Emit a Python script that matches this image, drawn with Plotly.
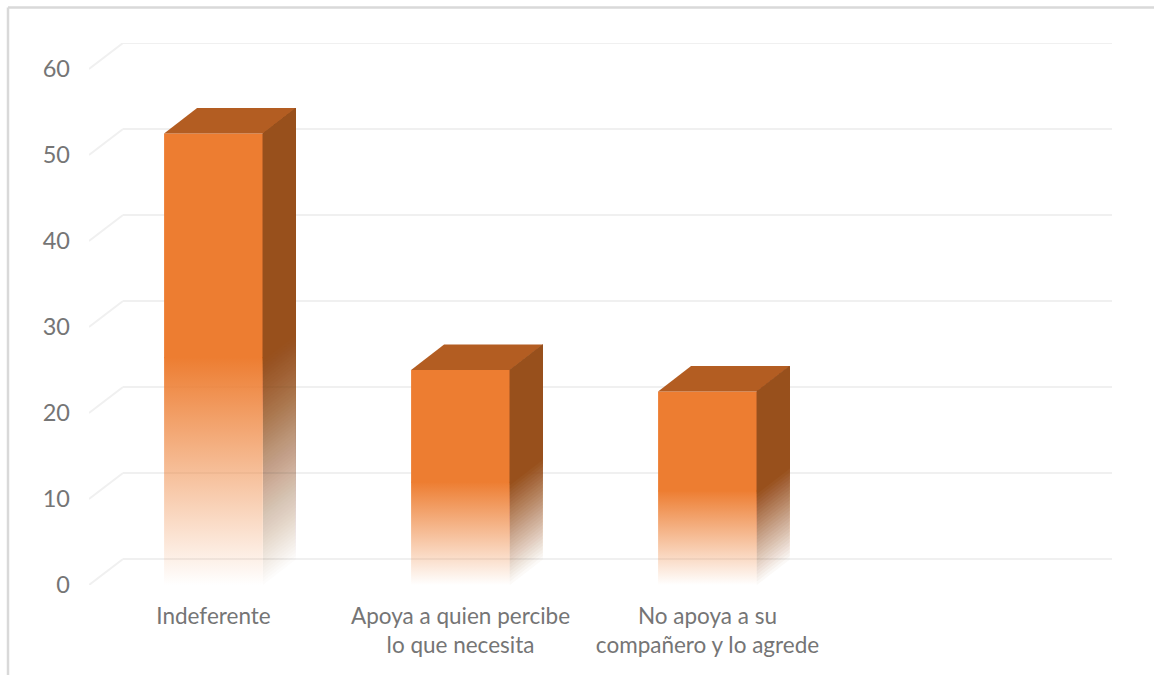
import plotly.graph_objects as go

categories = ["Indeferente", "Apoya a quien percibe<br>lo que necesita", "No apoya a su<br>compañero y lo agrede", ""]
values = [52.5, 25.0, 22.5]
fade_heights = [26.5, 12.0, 11.0]
y_ticks = [0, 10, 20, 30, 40, 50, 60]

W, H = 1154, 675
L, R, T, B = 89, 1112, 43, 585
PX_X = 247.0
PX_Y = 8.6
X0, X1 = -0.504, -0.504 + (R - L) / PX_X
Y0, Y1 = 0.0, (B - T) / PX_Y
BAR_W = 0.4
DX, DY = 33 / PX_X, 25.5 / PX_Y
GRID_DX, GRID_DY = 34 / PX_X, 26 / PX_Y

FRONT = (237, 125, 49)
SIDE = (152, 80, 28)
TOP = (179, 93, 34)
GRID = "#f0f0f0"
TEXT = "#757575"
FONT = "Lato, Carlito, 'Open Sans', sans-serif"


def rgba(c, a):
    return f"rgba({c[0]},{c[1]},{c[2]},{a:.4f})"


fig = go.Figure()

# depth gridlines sit under every trace
shapes = []
for t in y_ticks:
    shapes.append(dict(type="line", xref="x", yref="y", layer="below",
                       x0=X0, x1=X0 + GRID_DX, y0=t, y1=t + GRID_DY,
                       line=dict(color=GRID, width=2)))
    shapes.append(dict(type="line", xref="x", yref="y", layer="below",
                       x0=X0 + GRID_DX, x1=X1, y0=t + GRID_DY, y1=t + GRID_DY,
                       line=dict(color=GRID, width=2)))

xs = list(range(len(values)))

# upper solid part of each front face, as real bars (a hair of overlap hides the seam)
OVERLAP = 0.12
fig.add_trace(go.Bar(
    x=xs, y=[v - f + OVERLAP for v, f in zip(values, fade_heights)],
    base=[f - OVERLAP for f in fade_heights],
    width=BAR_W, marker=dict(color=rgba(FRONT, 1), line=dict(width=0)),
    showlegend=False, hoverinfo="skip"))

for i, (v, f) in enumerate(zip(values, fade_heights)):
    xl, xr = i - BAR_W / 2, i + BAR_W / 2

    # fading lower part of the front face
    fig.add_trace(go.Scatter(
        x=[xl, xr, xr, xl, xl], y=[0, 0, f, f, 0], mode="lines",
        line=dict(width=0), fill="toself",
        fillgradient=dict(type="vertical", start=f, stop=0,
                          colorscale=[[0, rgba(FRONT, 1)], [1, rgba(FRONT, 0)]]),
        hoverinfo="skip", showlegend=False))

    # top face
    fig.add_trace(go.Scatter(
        x=[xl, xl + DX, xr + DX, xr, xl], y=[v, v + DY, v + DY, v, v],
        mode="lines", line=dict(width=0), fill="toself", fillcolor=rgba(TOP, 1),
        hoverinfo="skip", showlegend=False))

    # side face: overlapping sheared layers build the diagonal fade
    n = int(f / 0.4)
    prev = 0.0
    for k in range(1, n + 1):
        a = k / n
        low = f * (k - 1) / n
        delta = 1 - (1 - a) / (1 - prev) if prev < 1 else 0
        prev = a
        fig.add_trace(go.Scatter(
            x=[xr, xr + DX, xr + DX, xr, xr],
            y=[low, low + DY, v + DY, v, low],
            mode="lines", line=dict(width=0), fill="toself",
            fillcolor=rgba(SIDE, delta), hoverinfo="skip", showlegend=False))

shapes += [
    dict(type="line", xref="paper", yref="paper",
         x0=(8 - L) / (R - L), x1=(W - L) / (R - L),
         y0=(B - 7.5) / (B - T), y1=(B - 7.5) / (B - T),
         line=dict(color="#d9d9d9", width=2.5)),
    dict(type="line", xref="paper", yref="paper",
         x0=(8 - L) / (R - L), x1=(8 - L) / (R - L),
         y0=(B - 7.5) / (B - T), y1=(B - H) / (B - T),
         line=dict(color="#d9d9d9", width=2.5)),
]

fig.update_layout(
    width=W, height=H, autosize=False,
    margin=dict(l=L, r=W - R, t=T, b=H - B, pad=0),
    paper_bgcolor="white", plot_bgcolor="rgba(0,0,0,0)",
    showlegend=False, barmode="overlay",
    font=dict(family=FONT, color=TEXT, size=22.5),
    xaxis=dict(range=[X0, X1], tickmode="array", tickvals=list(range(len(categories))),
               ticktext=categories, showgrid=False, zeroline=False, showline=False,
               ticks="", ticklabelstandoff=15, tickangle=0,
               tickfont=dict(size=22.5, family=FONT, color=TEXT)),
    yaxis=dict(range=[Y0, Y1], tickmode="array", tickvals=y_ticks, showgrid=False,
               zeroline=False, showline=False, ticks="", ticklabelstandoff=18,
               tickfont=dict(size=23.5, family=FONT, color=TEXT)),
    shapes=shapes,
)

fig.write_html("out.html", config=dict(displayModeBar=False),
               post_script="document.body.style.margin='0';document.documentElement.style.overflow='hidden';")
